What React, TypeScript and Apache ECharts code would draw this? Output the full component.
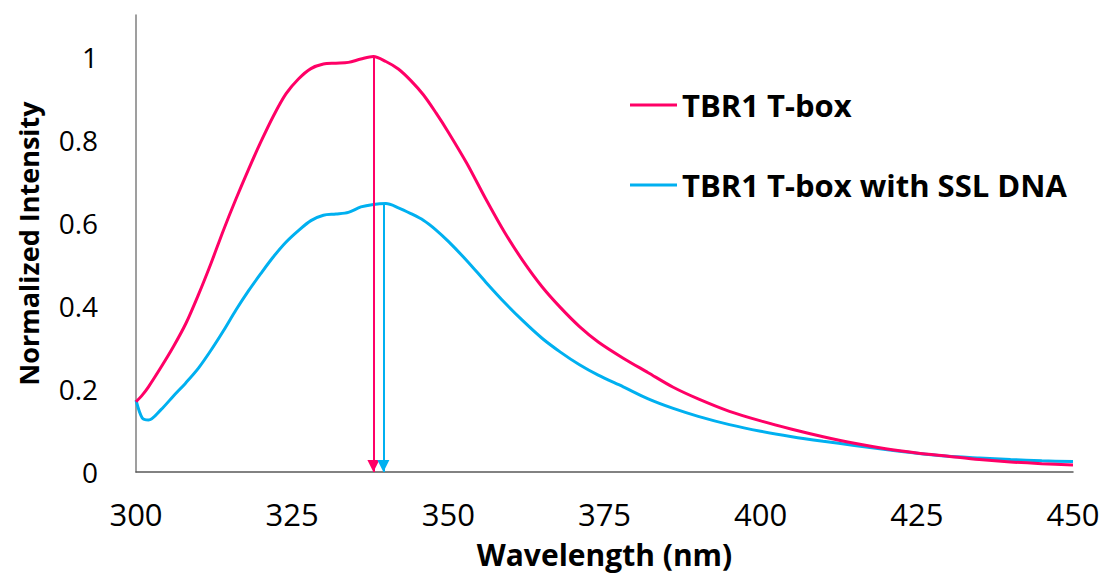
import React, { useEffect, useRef } from "react";
import * as echarts from "echarts";

const wavelengths = [
  300, 301, 302, 304, 306, 308, 310, 312, 314, 316, 318, 320, 322, 324, 326, 328, 330, 332, 334, 336,
  338, 340, 342, 344, 346, 348, 350, 353, 356, 359, 362, 365, 368, 371, 374, 378, 382, 386, 390, 395,
  400, 405, 410, 415, 420, 425, 430, 435, 440, 445, 450,
];

const tbr1 = [
  0.169, 0.185, 0.205, 0.252, 0.302, 0.358, 0.427, 0.502, 0.582, 0.657, 0.728, 0.795, 0.857, 0.91, 0.946,
  0.971, 0.982, 0.984, 0.986, 0.994, 1.0, 0.988, 0.97, 0.942, 0.908, 0.865, 0.818, 0.742, 0.657, 0.577,
  0.507, 0.446, 0.395, 0.35, 0.313, 0.274, 0.239, 0.204, 0.176, 0.146, 0.123, 0.103, 0.085, 0.069, 0.056,
  0.046, 0.038, 0.03, 0.024, 0.02, 0.017,
];

const tbr1Ssl = [
  0.173, 0.13, 0.125, 0.15, 0.183, 0.215, 0.25, 0.293, 0.34, 0.39, 0.436, 0.478, 0.518, 0.553, 0.581,
  0.605, 0.618, 0.621, 0.625, 0.638, 0.644, 0.646, 0.636, 0.622, 0.606, 0.583, 0.555, 0.508, 0.457,
  0.408, 0.363, 0.322, 0.288, 0.258, 0.233, 0.205, 0.176, 0.153, 0.134, 0.114, 0.098, 0.085, 0.074,
  0.064, 0.054, 0.045, 0.038, 0.034, 0.03, 0.027, 0.025,
];

// peak markers: [wavelength, intensity]
const peakTbr1 = [338, 1.0];
const peakTbr1Ssl = [339.6, 0.646];

const seriesNames = ["TBR1 T-box", "TBR1 T-box with SSL DNA"];
const colors = ["#FF0066", "#00B0F0"];

const FONT = "'Open Sans', sans-serif";

export default function App() {
  const ref = useRef<HTMLDivElement>(null);

  useEffect(() => {
    if (!ref.current) return;
    const chart = echarts.init(ref.current, null, { renderer: "svg" });
    const mk = (vals: number[]) => wavelengths.map((w, i) => [w, vals[i]]);
    const arrow = (peak: number[], color: string) => ({
      silent: true,
      symbol: ["none", "triangle"],
      symbolSize: 12,
      symbolOffset: [0, [0, 6]],
      label: { show: false },
      lineStyle: { color, width: 2, type: "solid" },
      emphasis: { disabled: true },
      data: [[{ coord: [peak[0], peak[1]] }, { coord: [peak[0], 0] }]],
    });
    chart.setOption({
      animation: false,
      backgroundColor: "#ffffff",
      grid: { left: 136, right: 35, top: 15, bottom: 105, containLabel: false, outerBoundsMode: "none" },
      legend: {
        orient: "vertical",
        left: 625,
        top: 83,
        itemGap: 46,
        itemWidth: 47,
        itemHeight: 3,
        icon: "rect",
        textStyle: { fontFamily: FONT, fontWeight: "bold", fontSize: 31, color: "#000", lineHeight: 34 },
        data: seriesNames,
      },
      xAxis: {
        type: "value",
        min: 300,
        max: 450,
        interval: 25,
        name: "Wavelength (nm)",
        nameLocation: "middle",
        nameGap: 67,
        nameTextStyle: { fontFamily: FONT, fontWeight: "bold", fontSize: 30, lineHeight: 30, color: "#000" },
        axisLine: { lineStyle: { color: "#595959", width: 1.5 } },
        axisTick: { show: false },
        splitLine: { show: false },
        axisLabel: { fontFamily: FONT, fontSize: 31, lineHeight: 31, color: "#000", margin: 26 },
      },
      yAxis: {
        type: "value",
        min: 0,
        max: 1.1,
        interval: 0.2,
        name: "Normalized Intensity",
        nameLocation: "middle",
        nameGap: 94,
        nameTextStyle: { fontFamily: FONT, fontWeight: "bold", fontSize: 27, color: "#000" },
        axisLine: { show: true, lineStyle: { color: "#7f7f7f", width: 1.5 } },
        axisTick: { show: false },
        splitLine: { show: false },
        axisLabel: { fontFamily: FONT, fontSize: 28, color: "#000", margin: 38, showMaxLabel: false },
      },
      series: [
        {
          name: seriesNames[0],
          type: "line",
          data: mk(tbr1),
          smooth: 0.3,
          symbol: "none",
          lineStyle: { color: colors[0], width: 3 },
          itemStyle: { color: colors[0] },
          z: 3,
          markLine: arrow(peakTbr1, colors[0]),
        },
        {
          name: seriesNames[1],
          type: "line",
          data: mk(tbr1Ssl),
          smooth: 0.3,
          symbol: "none",
          lineStyle: { color: colors[1], width: 3 },
          itemStyle: { color: colors[1] },
          z: 2,
          markLine: arrow(peakTbr1Ssl, colors[1]),
        },
      ],
    });
    return () => chart.dispose();
  }, []);

  return (
    <div
      ref={ref}
      style={{ position: "absolute", left: 0, top: 0, width: 1108, height: 577, background: "#fff" }}
    />
  );
}
